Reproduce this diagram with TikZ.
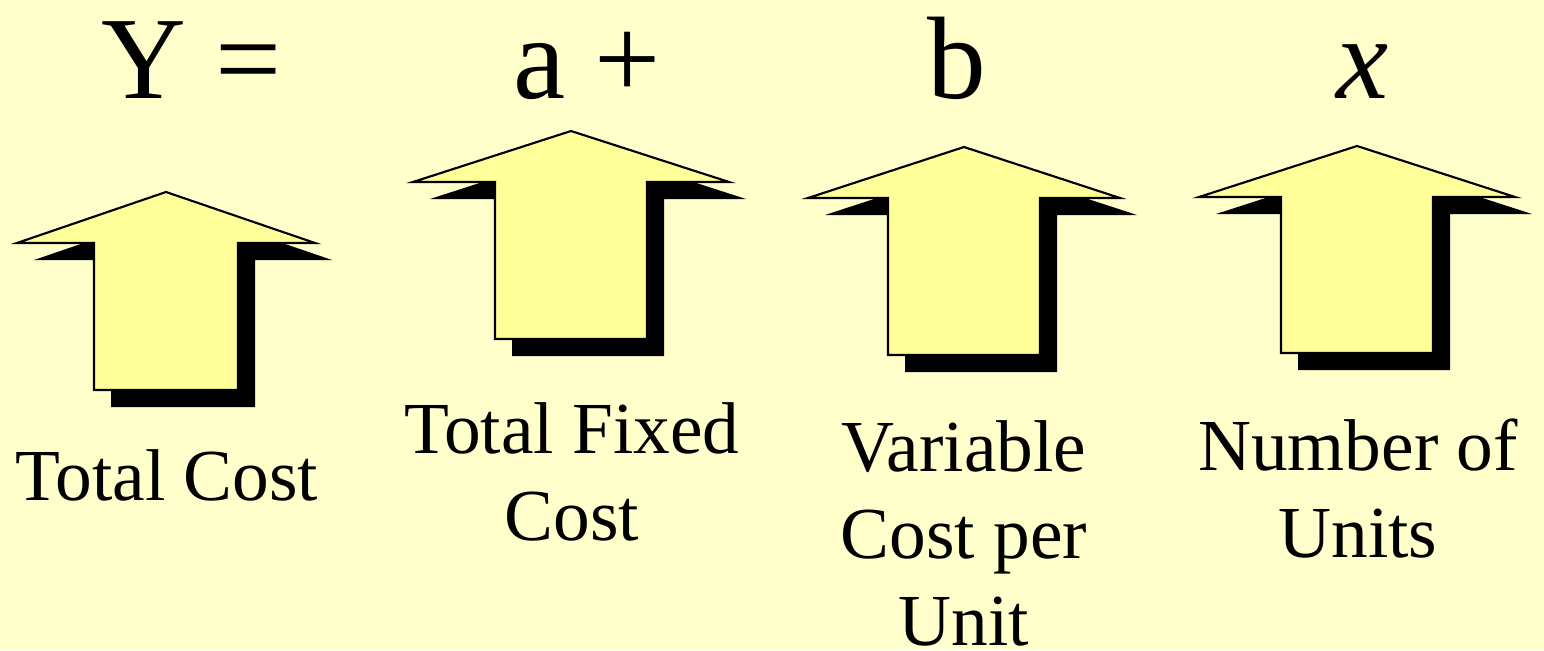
\documentclass[tikz,border=0pt]{standalone}
\usepackage{fontspec}
\setmainfont{Liberation Serif}
\definecolor{slidebg}{HTML}{FFFFCC}
\definecolor{arrowfill}{HTML}{FFFF99}

\begin{document}
\begin{tikzpicture}[x=0.75pt, y=-0.75pt,
            eq/.style={anchor=base, inner sep=0pt, font=\fontsize{88}{100}\selectfont},
            lbl/.style={anchor=base, inner sep=0pt, align=center, font=\fontsize{55}{65}\selectfont},
            body/.style={draw=black, line width=1.6pt, fill=arrowfill, line join=miter},
            shade/.style={fill=black}]
            \fill[slidebg] (0,0) rectangle (1544,650);
            \useasboundingbox (0,0) rectangle (1544,650);
            % centre / tip / bottom / half wing / half shaft
            \foreach \cx/\ty/\by/\hw/\hs in {166/192/390/149/72, 571/131/339/158/76, 964/147/355/156/76, 1357/146/353/158/76} {
                \fill[shade, shift={(17,17)}] (\cx,\ty) -- (\cx+\hw,\ty+51) -- (\cx+\hs,\ty+51) -- (\cx+\hs,\by)
                    -- (\cx-\hs,\by) -- (\cx-\hs,\ty+51) -- (\cx-\hw,\ty+51) -- cycle;
                \draw[body] (\cx,\ty) -- (\cx+\hw,\ty+51) -- (\cx+\hs,\ty+51) -- (\cx+\hs,\by)
                    -- (\cx-\hs,\by) -- (\cx-\hs,\ty+51) -- (\cx-\hw,\ty+51) -- cycle;
            }
            \node[eq] (eqY) at (192,98) {Y =};
            \node[eq] (eqA) at (587,98) {a +};
            \node[eq] (eqB) at (957,98) {b};
            \node[eq] (eqX) at (1363,98) {\textit{x}};
            % base = last line
            \node[lbl] (lblTotal) at (167,500) {Total Cost};
            \node[lbl] (lblFixed) at (572,540) {Total Fixed\\Cost};
            \node[lbl] (lblVar) at (964,645) {Variable\\Cost per\\Unit};
            \node[lbl] (lblUnits) at (1358,557) {Number of\\Units};
\end{tikzpicture}
\end{document}
